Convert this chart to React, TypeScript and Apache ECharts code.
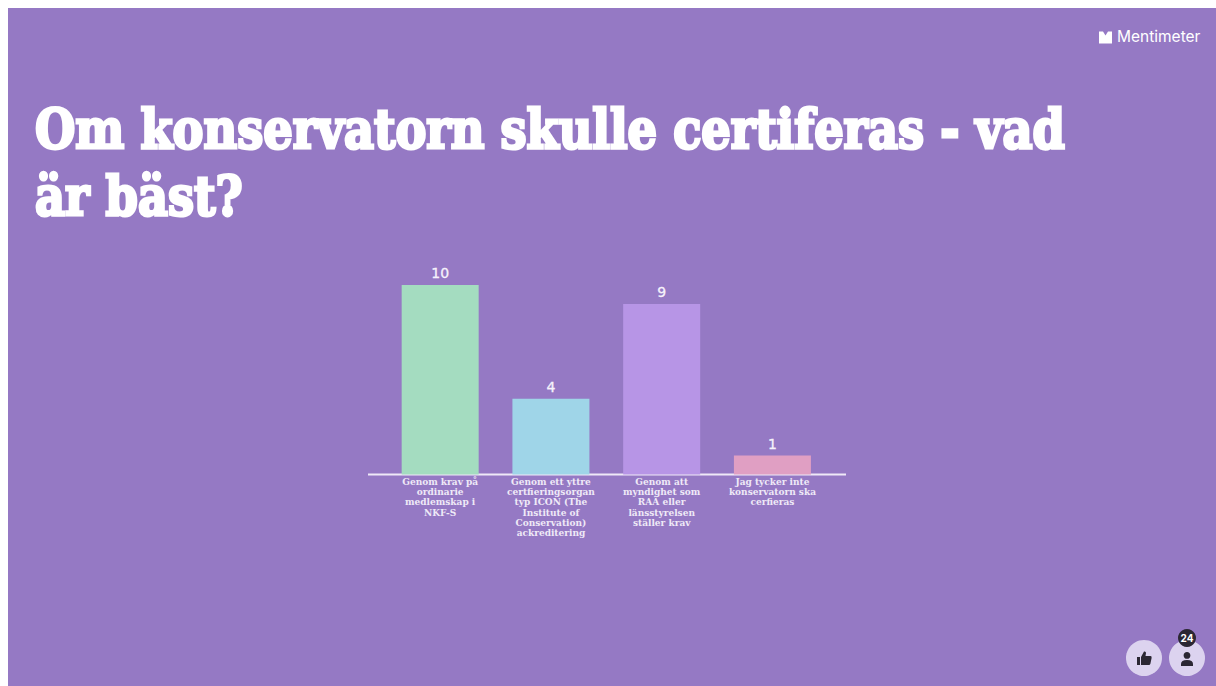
import React, { useEffect, useRef } from "react";
import * as echarts from "echarts";

const titleText = "Om konservatorn skulle certiferas - vad\när bäst?";
const categories = [
  "Genom krav på\nordinarie\nmedlemskap i\nNKF-S",
  "Genom ett yttre\ncertfieringsorgan\ntyp ICON (The\nInstitute of\nConservation)\nackreditering",
  "Genom att\nmyndighet som\nRAÄ eller\nlänsstyrelsen\nställer krav",
  "Jag tycker inte\nkonservatorn ska\ncerfieras",
];
const values = [10, 4, 9, 1];
const barColors = ["#a4dcc0", "#9fd5e8", "#b795e6", "#e09fc3"];

const markPath = "M0 0 L4 0 L6.5 4 L9 0 L13 0 L13 12 L0 12 Z";
const thumbPath = "M0 6 L3 6 L3 14 L0 14 Z M4 6 L7 0.5 Q9 0 9 2 L8.5 5 L13.5 5 Q15 5 14.6 7 L13.4 12.8 Q13 14 12 14 L4 14 Z";
const personPath = "M6 0 C8 0 9.4 1.4 9.4 3.4 C9.4 5.4 8 6.8 6 6.8 C4 6.8 2.6 5.4 2.6 3.4 C2.6 1.4 4 0 6 0 Z M0 14 L0 12 Q0 8 6 8 Q12 8 12 12 L12 14 Z";
echarts.graphic.registerShape("mentiMark", echarts.graphic.extendPath(markPath as any, {}) as any);
echarts.graphic.registerShape("thumbIcon", echarts.graphic.extendPath(thumbPath as any, {}) as any);
echarts.graphic.registerShape("personIcon", echarts.graphic.extendPath(personPath as any, {}) as any);

export default function App() {
  const ref = useRef<HTMLDivElement>(null);
  useEffect(() => {
    const chart = echarts.init(ref.current!, null, { renderer: "svg" });
    chart.setOption({
      animation: false,
      backgroundColor: "#9579c4",
      grid: { left: 376.8, width: 443, top: 277, height: 189.5 },
      xAxis: {
        type: "category",
        data: categories,
        axisLine: { show: false },
        axisTick: { show: false },
        axisLabel: {
          interval: 0,
          margin: 2,
          color: "#efe9f7",
          fontFamily: "DejaVu Serif",
          fontWeight: "bold",
          fontSize: 9,
          lineHeight: 10.3,
          align: "center",
        },
      },
      yAxis: { type: "value", min: 0, max: 10, show: false },
      series: [
        {
          type: "bar",
          barWidth: 77,
          data: values.map((v, i) => ({ value: v, itemStyle: { color: barColors[i] } })),
          label: {
            show: true,
            position: "top",
            distance: 5,
            color: "#f6f2fb",
            fontFamily: "DejaVu Sans",
            fontSize: 14,
            textBorderColor: "#f6f2fb",
            textBorderWidth: 0.3,
          },
        },
      ],
      graphic: [
        {
          type: "text",
          x: 27,
          y: 88,
          scaleX: 0.858,
          style: {
            text: titleText,
            fill: "#ffffff",
            stroke: "#ffffff",
            lineWidth: 3,
            font: "900 54px 'DejaVu Serif'",
            lineHeight: 67,
          },
        },
        { type: "line", shape: { x1: 360, y1: 466.5, x2: 838, y2: 466.5 }, style: { stroke: "#efe9f7", lineWidth: 2 } },
        { type: "mentiMark", x: 1091, y: 23.5, style: { fill: "#ffffff" } },
        { type: "text", x: 1109, y: 20, style: { text: "Mentimeter", fill: "#ffffff", font: "15.5px Inter" } },
        { type: "circle", shape: { cx: 1136, cy: 650, r: 18 }, style: { fill: "#dcd3ef" } },
        { type: "circle", shape: { cx: 1179, cy: 650, r: 18 }, style: { fill: "#dcd3ef" } },
        { type: "thumbIcon", x: 1129, y: 643, style: { fill: "#2b2733" } },
        { type: "personIcon", x: 1173, y: 644, style: { fill: "#2b2733" } },
        { type: "circle", shape: { cx: 1179, cy: 630, r: 9 }, style: { fill: "#2b2733" } },
        { type: "text", x: 1179, y: 630, style: { text: "24", fill: "#ffffff", font: "bold 10px Inter", align: "center", verticalAlign: "middle" } },
      ],
    });
    return () => chart.dispose();
  }, []);
  return <div ref={ref} style={{ position: "fixed", left: 8, top: 8, width: 1208, height: 678 }} />;
}
